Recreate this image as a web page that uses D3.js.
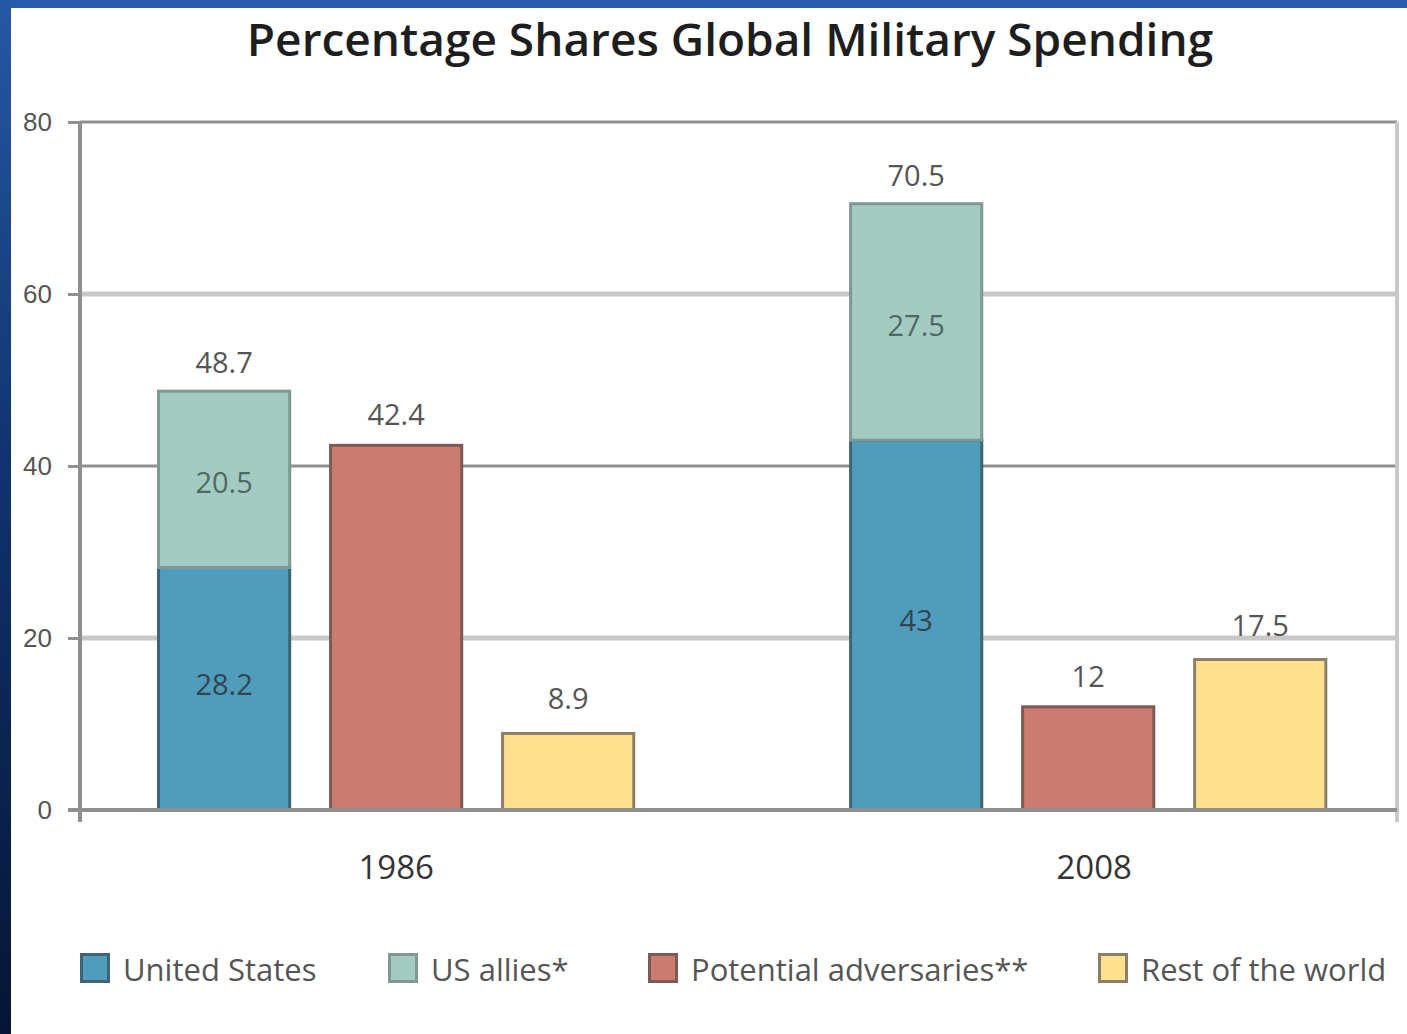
<!DOCTYPE html>
<html>
<head>
<meta charset="utf-8">
<script src="https://cdn.jsdelivr.net/npm/d3@7"></script>
<style>
  body { margin: 0; background: #fff; }
  svg { display: block; font-family: "Open Sans", "DejaVu Sans", sans-serif; }
</style>
</head>
<body>
<svg width="1407" height="1034"></svg>
<script>
// data
var years = ["1986", "2008"];
var unitedStates = [28.2, 43];
var usAllies = [20.5, 27.5];
var adversaries = [42.4, 12];
var restOfWorld = [8.9, 17.5];
var yTicks = [0, 20, 40, 60, 80];
var legendNames = ["United States", "US allies*", "Potential adversaries**", "Rest of the world"];

var svg = d3.select("svg"),
width = +svg.attr("width"),
height = +svg.attr("height");

// window frame (blue strip top and left)
var defs = svg.append("defs");
var grad = defs.append("linearGradient").attr("id", "side").attr("x1", 0).attr("y1", 0).attr("x2", 0).attr("y2", 1);
grad.append("stop").attr("offset", "0%").attr("stop-color", "#2658a6");
grad.append("stop").attr("offset", "45%").attr("stop-color", "#10336e");
grad.append("stop").attr("offset", "100%").attr("stop-color", "#061534");
svg.append("rect").attr("x", 0).attr("y", 0).attr("width", width).attr("height", 8).attr("fill", "#2a5cab");
svg.append("rect").attr("x", 0).attr("y", 0).attr("width", 11).attr("height", height).attr("fill", "url(#side)");

var margin = {left: 80, right: 10, top: 122, bottom: 224};
var plotRight = width - margin.right;
var plotBottom = height - margin.bottom;

var y = d3.scaleLinear().domain([0, 80]).range([plotBottom, margin.top]);

var x0 = d3.scaleBand().domain(years).range([margin.left, plotRight])
  .paddingInner(0.309).paddingOuter(0.106).align(0.525);

var x1 = d3.scaleBand().domain([0, 1, 2]).range([0, x0.bandwidth()]).paddingInner(0.22);

var colors = {
  us: "#4f9cbd", allies: "#a3cbc1", adv: "#cb7b70", rest: "#fee08f"
};
var strokes = {
  us: "#3d6576", allies: "#7f9893", adv: "#7d5a56", rest: "#8c8064"
};

svg.append("text")
  .attr("x", 730).attr("y", 56)
  .attr("text-anchor", "middle")
  .style("font-size", "46px").style("font-weight", 600)
  .style("fill", "#1e1e1e")
  .text("Percentage Shares Global Military Spending");

// gridlines
svg.append("g").selectAll("line")
  .data(yTicks.filter(function(d) { return d > 0; }))
  .enter().append("line")
  .attr("x1", margin.left).attr("x2", plotRight)
  .attr("y1", function(d) { return y(d); }).attr("y2", function(d) { return y(d); })
  .attr("stroke", function(d) { return (d / 20) % 2 == 1 ? "#c8c8c8" : "#8f8f8f"; })
  .attr("stroke-width", function(d) { return (d / 20) % 2 == 1 ? 5 : 3; });

// right border
svg.append("line")
  .attr("x1", plotRight).attr("x2", plotRight)
  .attr("y1", margin.top).attr("y2", plotBottom + 12)
  .attr("stroke", "#c8c8c8").attr("stroke-width", 4);

// y axis
var yAxis = svg.append("g")
  .attr("transform", "translate(" + margin.left + ",0)")
  .call(d3.axisLeft(y).tickValues(yTicks).tickSize(12).tickPadding(16));
yAxis.select(".domain").remove();
yAxis.selectAll(".tick line").attr("stroke", "#8f8f8f").attr("stroke-width", 3);
yAxis.selectAll(".tick text").style("font-size", "26px").style("fill", "#555").attr("font-family", null);
yAxis.append("line")
  .attr("x1", 0).attr("x2", 0).attr("y1", margin.top).attr("y2", plotBottom + 12)
  .attr("stroke", "#8f8f8f").attr("stroke-width", 4);

var groups = svg.append("g").selectAll("g")
  .data(years)
  .enter().append("g")
  .attr("transform", function(d) { return "translate(" + x0(d) + ",0)"; });

function bar(g, i, lo, hi, key) {
  g.append("rect")
    .attr("x", x1(i) + 1.5)
    .attr("y", y(hi))
    .attr("width", x1.bandwidth() - 3)
    .attr("height", y(lo) - y(hi))
    .attr("fill", colors[key])
    .attr("stroke", strokes[key])
    .attr("stroke-width", 3);
}

function label(g, cx, cy, txt, fill) {
  g.append("text")
    .attr("x", cx).attr("y", cy)
    .attr("text-anchor", "middle")
    .style("font-size", "29px")
    .style("fill", fill)
    .text(txt);
}

groups.each(function(d, i) {
  var g = d3.select(this);
  var cx = function(k) { return x1(k) + x1.bandwidth() / 2; };
  var total = unitedStates[i] + usAllies[i];
  bar(g, 0, 0, unitedStates[i], "us");
  bar(g, 0, unitedStates[i], total, "allies");
  bar(g, 1, 0, adversaries[i], "adv");
  bar(g, 2, 0, restOfWorld[i], "rest");

  label(g, cx(0), (y(0) + y(unitedStates[i])) / 2 + 6, unitedStates[i], "#33454d");
  label(g, cx(0), (y(unitedStates[i]) + y(total)) / 2 + 14, usAllies[i], "#4f6a64");
  label(g, cx(0), y(total) - 18, d3.format(".1f")(total), "#555");
  label(g, cx(1), y(adversaries[i]) - 20, adversaries[i], "#555");
  label(g, cx(2), y(restOfWorld[i]) - 24, restOfWorld[i], "#555");
});

// x axis line
svg.append("line")
  .attr("x1", margin.left - 12).attr("x2", plotRight)
  .attr("y1", y(0)).attr("y2", y(0))
  .attr("stroke", "#8f8f8f").attr("stroke-width", 4);

// category labels
svg.append("g").selectAll("text")
  .data(years)
  .enter().append("text")
  .attr("x", function(d, i) { return x0(d) + x0.bandwidth() / 2 + (i == 1 ? 6 : 0); })
  .attr("y", 879)
  .attr("text-anchor", "middle")
  .style("font-size", "33px")
  .style("fill", "#333")
  .text(function(d) { return d; });

// legend
var legendX = [80, 388, 648, 1098];
var legendKeys = ["us", "allies", "adv", "rest"];
var legend = svg.append("g").selectAll("g")
  .data(legendNames)
  .enter().append("g")
  .attr("transform", function(d, i) { return "translate(" + legendX[i] + ",953)"; });

legend.append("rect")
  .attr("x", 1.5).attr("y", 1.5)
  .attr("width", 27).attr("height", 27)
  .attr("fill", function(d, i) { return colors[legendKeys[i]]; })
  .attr("stroke", function(d, i) { return strokes[legendKeys[i]]; })
  .attr("stroke-width", 3);

legend.append("text")
  .attr("x", 43).attr("y", 28)
  .style("font-size", "31px")
  .style("fill", "#555")
  .text(function(d) { return d; });
</script>
</body>
</html>
